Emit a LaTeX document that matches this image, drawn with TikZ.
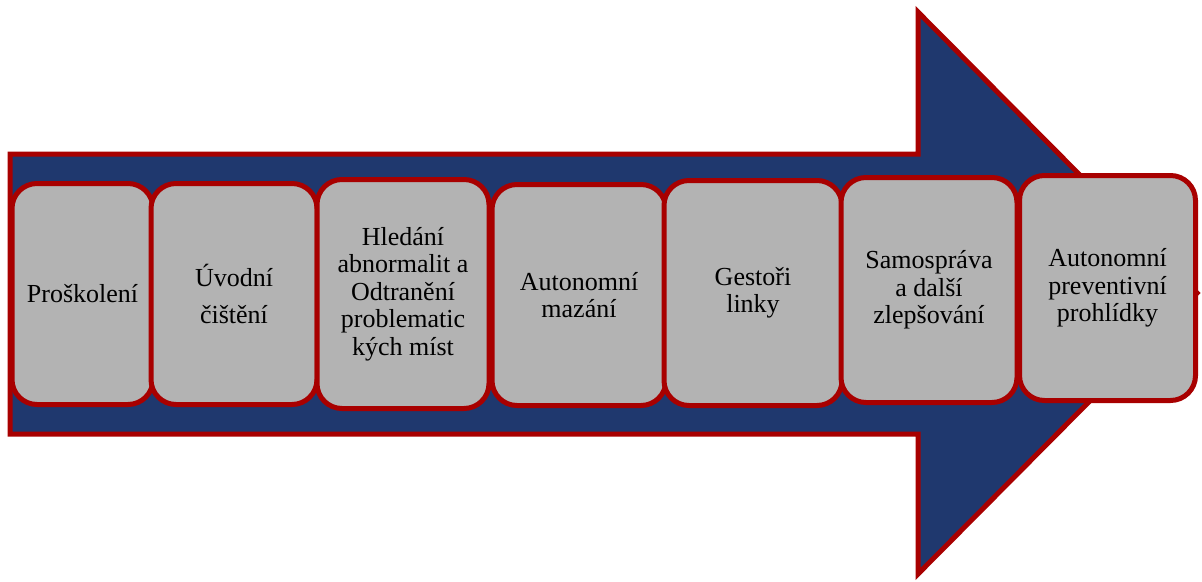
\documentclass[tikz,border=0pt]{standalone}
\usepackage{fontspec}
\setmainfont{Liberation Serif}
\definecolor{navy}{RGB}{31,56,110}
\definecolor{bordred}{RGB}{168,0,0}
\definecolor{boxgray}{RGB}{179,179,179}
\tikzset{
  bigarrow/.style={fill=navy, draw=bordred, line width=5pt, line join=miter},
  stepbox/.style={rectangle, rounded corners=25pt, fill=boxgray, draw=bordred,
    line width=5pt, align=center, inner sep=0pt, text=black,
    font=\fontsize{26}{27.5}\selectfont}
}
\begin{document}
\begin{tikzpicture}[x=1pt,y=-1pt]
\useasboundingbox (0,0) rectangle (1202,581);
\coordinate (a1) at (10,154);
\coordinate (a2) at (918,154);
\coordinate (a3) at (918,12);
\coordinate (tip) at (1197,293);
\coordinate (a5) at (918,574);
\coordinate (a6) at (918,434);
\coordinate (a7) at (10,434);
\draw[bigarrow] (a1) -- (a2) -- (a3) -- (tip) -- (a5) -- (a6) -- (a7) -- cycle;
\node[stepbox, minimum width=141pt, minimum height=221pt] (b1) at (82.5,294) {Proškolení};
\node[stepbox, minimum width=166pt, minimum height=221pt] (b2) at (234,294) {Úvodní\\[9pt]čištění};
\node[stepbox, minimum width=172pt, minimum height=229pt] (b3) at (403,294) {Hledání\\abnormalit a\\Odtranění\\problematic\\kých míst};
\node[stepbox, minimum width=174pt, minimum height=221pt] (b4) at (579,295) {Autonomní\\mazání};
\node[stepbox, minimum width=178pt, minimum height=225pt] (b5) at (753,293) {Gestoři\\linky};
\node[stepbox, minimum width=176pt, minimum height=225pt] (b6) at (929,290) {Samospráva\\a další\\zlepšování};
\node[stepbox, minimum width=176pt, minimum height=225pt] (b7) at (1107.5,288) {Autonomní\\preventivní\\prohlídky};
\end{tikzpicture}
\end{document}
